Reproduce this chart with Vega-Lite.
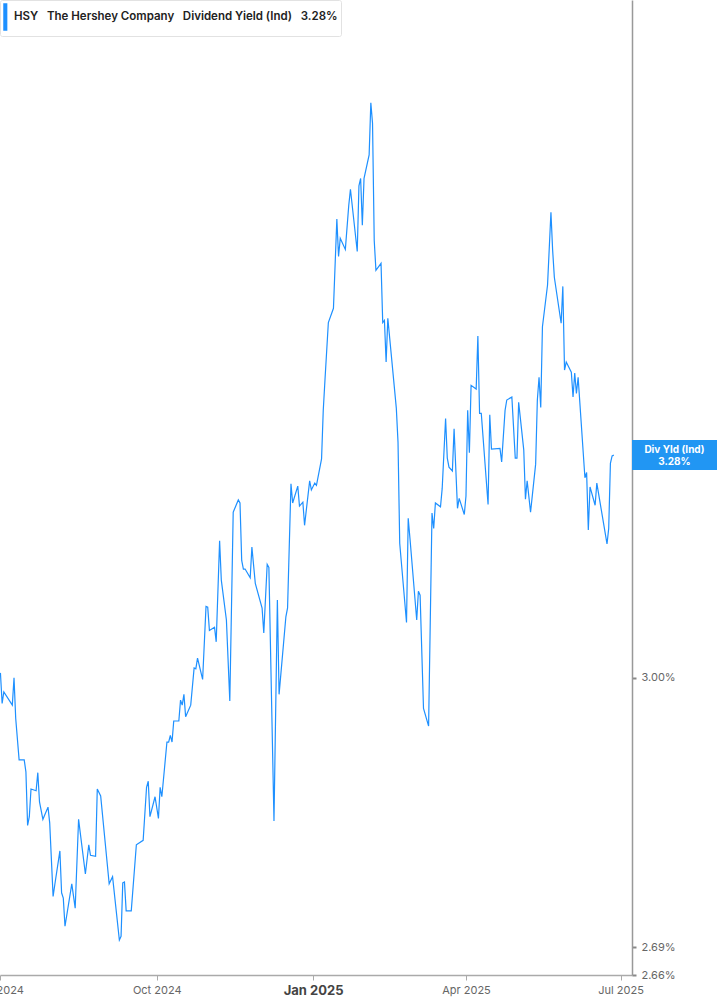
{
  "$schema": "https://vega.github.io/schema/vega-lite/v6.json",
  "autosize": {"type": "none"},
  "padding": {"left": 0, "top": 0, "right": 85, "bottom": 30},
  "width": 632,
  "height": 975,
  "background": "white",
  "config": {"view": {"stroke": null}, "font": "Inter"},
  "layer": [
    {
      "data": {
        "format": {"parse": {"date": "date:'%Y-%m-%d'"}},
        "values": [
          {"date":"2024-07-01","yield":3.006},{"date":"2024-07-02","yield":2.969},{"date":"2024-07-03","yield":2.983},{"date":"2024-07-08","yield":2.967},{"date":"2024-07-09","yield":3.000},{"date":"2024-07-10","yield":2.951},{"date":"2024-07-12","yield":2.902},{"date":"2024-07-15","yield":2.902},{"date":"2024-07-16","yield":2.888},{"date":"2024-07-17","yield":2.826},{"date":"2024-07-18","yield":2.836},{"date":"2024-07-19","yield":2.868},{"date":"2024-07-22","yield":2.866},{"date":"2024-07-23","yield":2.887},{"date":"2024-07-24","yield":2.853},{"date":"2024-07-26","yield":2.833},{"date":"2024-07-29","yield":2.847},{"date":"2024-07-30","yield":2.829},
          {"date":"2024-08-01","yield":2.746},{"date":"2024-08-02","yield":2.759},{"date":"2024-08-05","yield":2.797},{"date":"2024-08-06","yield":2.750},{"date":"2024-08-07","yield":2.744},{"date":"2024-08-08","yield":2.713},{"date":"2024-08-12","yield":2.760},{"date":"2024-08-14","yield":2.733},{"date":"2024-08-16","yield":2.833},{"date":"2024-08-20","yield":2.771},{"date":"2024-08-22","yield":2.804},{"date":"2024-08-23","yield":2.792},{"date":"2024-08-26","yield":2.791},{"date":"2024-08-27","yield":2.868},{"date":"2024-08-29","yield":2.860},
          {"date":"2024-09-03","yield":2.760},{"date":"2024-09-05","yield":2.768},{"date":"2024-09-09","yield":2.698},{"date":"2024-09-10","yield":2.702},{"date":"2024-09-11","yield":2.761},{"date":"2024-09-12","yield":2.762},{"date":"2024-09-13","yield":2.730},{"date":"2024-09-16","yield":2.730},{"date":"2024-09-19","yield":2.804},{"date":"2024-09-23","yield":2.809},{"date":"2024-09-25","yield":2.870},{"date":"2024-09-26","yield":2.877},{"date":"2024-09-27","yield":2.836},{"date":"2024-09-30","yield":2.859},
          {"date":"2024-10-02","yield":2.834},{"date":"2024-10-03","yield":2.870},{"date":"2024-10-04","yield":2.859},{"date":"2024-10-07","yield":2.923},{"date":"2024-10-08","yield":2.923},{"date":"2024-10-09","yield":2.931},{"date":"2024-10-10","yield":2.923},{"date":"2024-10-11","yield":2.948},{"date":"2024-10-14","yield":2.948},{"date":"2024-10-15","yield":2.973},{"date":"2024-10-16","yield":2.967},{"date":"2024-10-17","yield":2.980},{"date":"2024-10-18","yield":2.953},{"date":"2024-10-21","yield":2.967},{"date":"2024-10-23","yield":3.012},{"date":"2024-10-24","yield":3.011},{"date":"2024-10-25","yield":3.024},{"date":"2024-10-28","yield":2.998},{"date":"2024-10-30","yield":3.088},{"date":"2024-10-31","yield":3.087},
          {"date":"2024-11-01","yield":3.058},{"date":"2024-11-04","yield":3.062},{"date":"2024-11-05","yield":3.044},{"date":"2024-11-07","yield":3.171},{"date":"2024-11-08","yield":3.121},{"date":"2024-11-11","yield":3.071},{"date":"2024-11-13","yield":2.972},{"date":"2024-11-15","yield":3.208},{"date":"2024-11-18","yield":3.224},{"date":"2024-11-19","yield":3.220},{"date":"2024-11-20","yield":3.146},{"date":"2024-11-21","yield":3.135},{"date":"2024-11-22","yield":3.135},{"date":"2024-11-25","yield":3.124},{"date":"2024-11-26","yield":3.163},{"date":"2024-11-28","yield":3.117},
          {"date":"2024-12-02","yield":3.086},{"date":"2024-12-03","yield":3.055},{"date":"2024-12-05","yield":3.141},{"date":"2024-12-06","yield":3.137},{"date":"2024-12-09","yield":2.831},{"date":"2024-12-11","yield":3.096},{"date":"2024-12-12","yield":2.980},{"date":"2024-12-16","yield":3.075},{"date":"2024-12-17","yield":3.086},{"date":"2024-12-19","yield":3.245},{"date":"2024-12-20","yield":3.220},{"date":"2024-12-23","yield":3.242},{"date":"2024-12-24","yield":3.216},{"date":"2024-12-26","yield":3.221},{"date":"2024-12-27","yield":3.191},{"date":"2024-12-30","yield":3.249},{"date":"2024-12-31","yield":3.237},
          {"date":"2025-01-02","yield":3.246},{"date":"2025-01-03","yield":3.243},{"date":"2025-01-06","yield":3.278},{"date":"2025-01-07","yield":3.343},{"date":"2025-01-08","yield":3.384},{"date":"2025-01-10","yield":3.464},{"date":"2025-01-13","yield":3.484},{"date":"2025-01-15","yield":3.612},{"date":"2025-01-16","yield":3.558},{"date":"2025-01-17","yield":3.584},{"date":"2025-01-20","yield":3.568},{"date":"2025-01-22","yield":3.632},{"date":"2025-01-23","yield":3.656},{"date":"2025-01-27","yield":3.565},{"date":"2025-01-28","yield":3.661},{"date":"2025-01-29","yield":3.672},{"date":"2025-01-30","yield":3.603},{"date":"2025-01-31","yield":3.672},
          {"date":"2025-02-03","yield":3.707},{"date":"2025-02-04","yield":3.786},{"date":"2025-02-05","yield":3.755},{"date":"2025-02-06","yield":3.581},{"date":"2025-02-07","yield":3.538},{"date":"2025-02-10","yield":3.548},{"date":"2025-02-11","yield":3.464},{"date":"2025-02-12","yield":3.467},{"date":"2025-02-13","yield":3.409},{"date":"2025-02-14","yield":3.470},{"date":"2025-02-19","yield":3.346},{"date":"2025-02-20","yield":3.300},{"date":"2025-02-21","yield":3.168},{"date":"2025-02-25","yield":3.068},{"date":"2025-02-26","yield":3.200},{"date":"2025-02-27","yield":3.175},
          {"date":"2025-03-03","yield":3.071},{"date":"2025-03-04","yield":3.107},{"date":"2025-03-05","yield":3.102},{"date":"2025-03-07","yield":2.963},{"date":"2025-03-10","yield":2.942},{"date":"2025-03-12","yield":3.207},{"date":"2025-03-13","yield":3.187},{"date":"2025-03-14","yield":3.220},{"date":"2025-03-17","yield":3.215},{"date":"2025-03-18","yield":3.239},{"date":"2025-03-20","yield":3.332},{"date":"2025-03-21","yield":3.279},{"date":"2025-03-22","yield":3.267},{"date":"2025-03-24","yield":3.262},{"date":"2025-03-25","yield":3.318},{"date":"2025-03-27","yield":3.213},{"date":"2025-03-28","yield":3.226},{"date":"2025-03-31","yield":3.205},
          {"date":"2025-04-01","yield":3.229},{"date":"2025-04-02","yield":3.343},{"date":"2025-04-03","yield":3.286},{"date":"2025-04-04","yield":3.377},{"date":"2025-04-07","yield":3.372},{"date":"2025-04-08","yield":3.445},{"date":"2025-04-09","yield":3.339},{"date":"2025-04-10","yield":3.339},{"date":"2025-04-14","yield":3.218},{"date":"2025-04-15","yield":3.337},{"date":"2025-04-16","yield":3.291},{"date":"2025-04-21","yield":3.292},{"date":"2025-04-22","yield":3.274},{"date":"2025-04-24","yield":3.343},{"date":"2025-04-25","yield":3.357},{"date":"2025-04-28","yield":3.361},{"date":"2025-04-30","yield":3.279},
          {"date":"2025-05-01","yield":3.279},{"date":"2025-05-02","yield":3.354},{"date":"2025-05-05","yield":3.290},{"date":"2025-05-06","yield":3.225},{"date":"2025-05-07","yield":3.249},{"date":"2025-05-09","yield":3.208},{"date":"2025-05-12","yield":3.271},{"date":"2025-05-13","yield":3.357},{"date":"2025-05-14","yield":3.388},{"date":"2025-05-15","yield":3.347},{"date":"2025-05-16","yield":3.458},{"date":"2025-05-19","yield":3.517},{"date":"2025-05-21","yield":3.622},{"date":"2025-05-22","yield":3.567},{"date":"2025-05-23","yield":3.528},{"date":"2025-05-27","yield":3.463},{"date":"2025-05-28","yield":3.515},{"date":"2025-05-29","yield":3.398},{"date":"2025-05-30","yield":3.409},
          {"date":"2025-06-02","yield":3.395},{"date":"2025-06-03","yield":3.361},{"date":"2025-06-04","yield":3.394},{"date":"2025-06-05","yield":3.366},{"date":"2025-06-06","yield":3.388},{"date":"2025-06-10","yield":3.253},{"date":"2025-06-11","yield":3.260},{"date":"2025-06-12","yield":3.185},{"date":"2025-06-13","yield":3.241},{"date":"2025-06-16","yield":3.217},{"date":"2025-06-17","yield":3.246},{"date":"2025-06-23","yield":3.167},{"date":"2025-06-24","yield":3.187},{"date":"2025-06-25","yield":3.272},{"date":"2025-06-26","yield":3.282},{"date":"2025-06-27","yield":3.283}
        ]
      },
      "mark": {"type": "line", "strokeWidth": 1.2, "interpolate": "linear"},
      "encoding": {
        "x": {
          "field": "date", "type": "temporal",
          "scale": {"domain": [{"year": 2024, "month": 6, "date": 30, "hours": 18}, {"year": 2025, "month": 7, "date": 7, "hours": 17}]},
          "axis": {
            "title": null,
            "grid": false,
            "values": [{"year": 2024, "month": 7, "date": 1}, {"year": 2024, "month": 10, "date": 1}, {"year": 2025, "month": 1, "date": 1}, {"year": 2025, "month": 4, "date": 1}, {"year": 2025, "month": 7, "date": 1}],
            "format": "%b %Y",
            "labelFont": "Inter",
            "labelFontSize": {"condition": {"test": "month(datum.value)==0", "value": 13}, "value": 11},
            "labelFontWeight": {"condition": {"test": "month(datum.value)==0", "value": 700}, "value": 400},
            "labelColor": {"condition": {"test": "month(datum.value)==0", "value": "#444444"}, "value": "#666666"},
            "labelPadding": 4,
            "labelFlush": false,
            "labelOverlap": false,
            "labelBound": false,
            "domainColor": "#aaaaaa",
            "domainWidth": 1.5,
            "tickColor": "#aaaaaa",
            "tickSize": 5,
            "tickWidth": 1
          }
        },
        "y": {
          "field": "yield", "type": "quantitative",
          "scale": {"type": "log", "domain": [2.66, 3.947], "nice": false, "zero": false},
          "axis": {
            "title": null,
            "orient": "right",
            "grid": false,
            "values": [2.66, 2.69, 3.0],
            "labelExpr": "format(datum.value, '.2f') + '%'",
            "labelFont": "Inter",
            "labelFontSize": 11,
            "labelColor": "#666666",
            "labelPadding": 5,
            "labelFlush": false,
            "labelOverlap": false,
            "labelBound": false,
            "domainColor": "#999999",
            "domainWidth": 1.5,
            "tickColor": "#888888",
            "tickSize": 4,
            "tickWidth": 2
          }
        },
        "color": {
          "datum": "HSY\u00a0\u00a0\u00a0The Hershey Company\u00a0\u00a0\u00a0Dividend Yield (Ind)\u00a0\u00a0\u00a03.28%\u00a0\u00a0\u00a0\u00a0\u00a0",
          "type": "nominal",
          "scale": {"range": ["#1e90ff"]},
          "legend": {
            "title": null,
            "orient": "top-left",
            "offset": 0,
            "padding": 3,
            "fillColor": "white",
            "strokeColor": "#e2e2e2",
            "cornerRadius": 2,
            "symbolType": "M-1,-1H-0.8V1H-1Z",
            "symbolSize": 676,
            "symbolFillColor": "#1e90ff",
            "symbolStrokeColor": "#1e90ff",
            "labelOffset": -17,
            "labelFont": "Inter",
            "labelFontSize": 11.5,
            "labelFontWeight": 600,
            "labelColor": "#222222",
            "labelLimit": 0
          }
        }
      }
    },
    {
      "data": {"values": [{"label": "Div Yld (Ind)\n3.28%", "yield": 3.283}]},
      "encoding": {
        "x": {"datum": {"year": 2025, "month": 7, "date": 7, "hours": 17}, "type": "temporal"},
        "y": {"field": "yield", "type": "quantitative"}
      },
      "layer": [
        {"mark": {"type": "point", "shape": "M0,-1H5.667V1H0Z", "size": 900, "filled": true, "fill": "#2196f3", "opacity": 1, "strokeWidth": 0}},
        {
          "mark": {"type": "text", "align": "center", "baseline": "middle", "dx": 42.5, "dy": -5, "color": "white", "font": "Inter", "fontSize": 10, "fontWeight": 700, "lineBreak": "\n", "lineHeight": 12},
          "encoding": {"text": {"field": "label"}}
        }
      ]
    }
  ]
}
